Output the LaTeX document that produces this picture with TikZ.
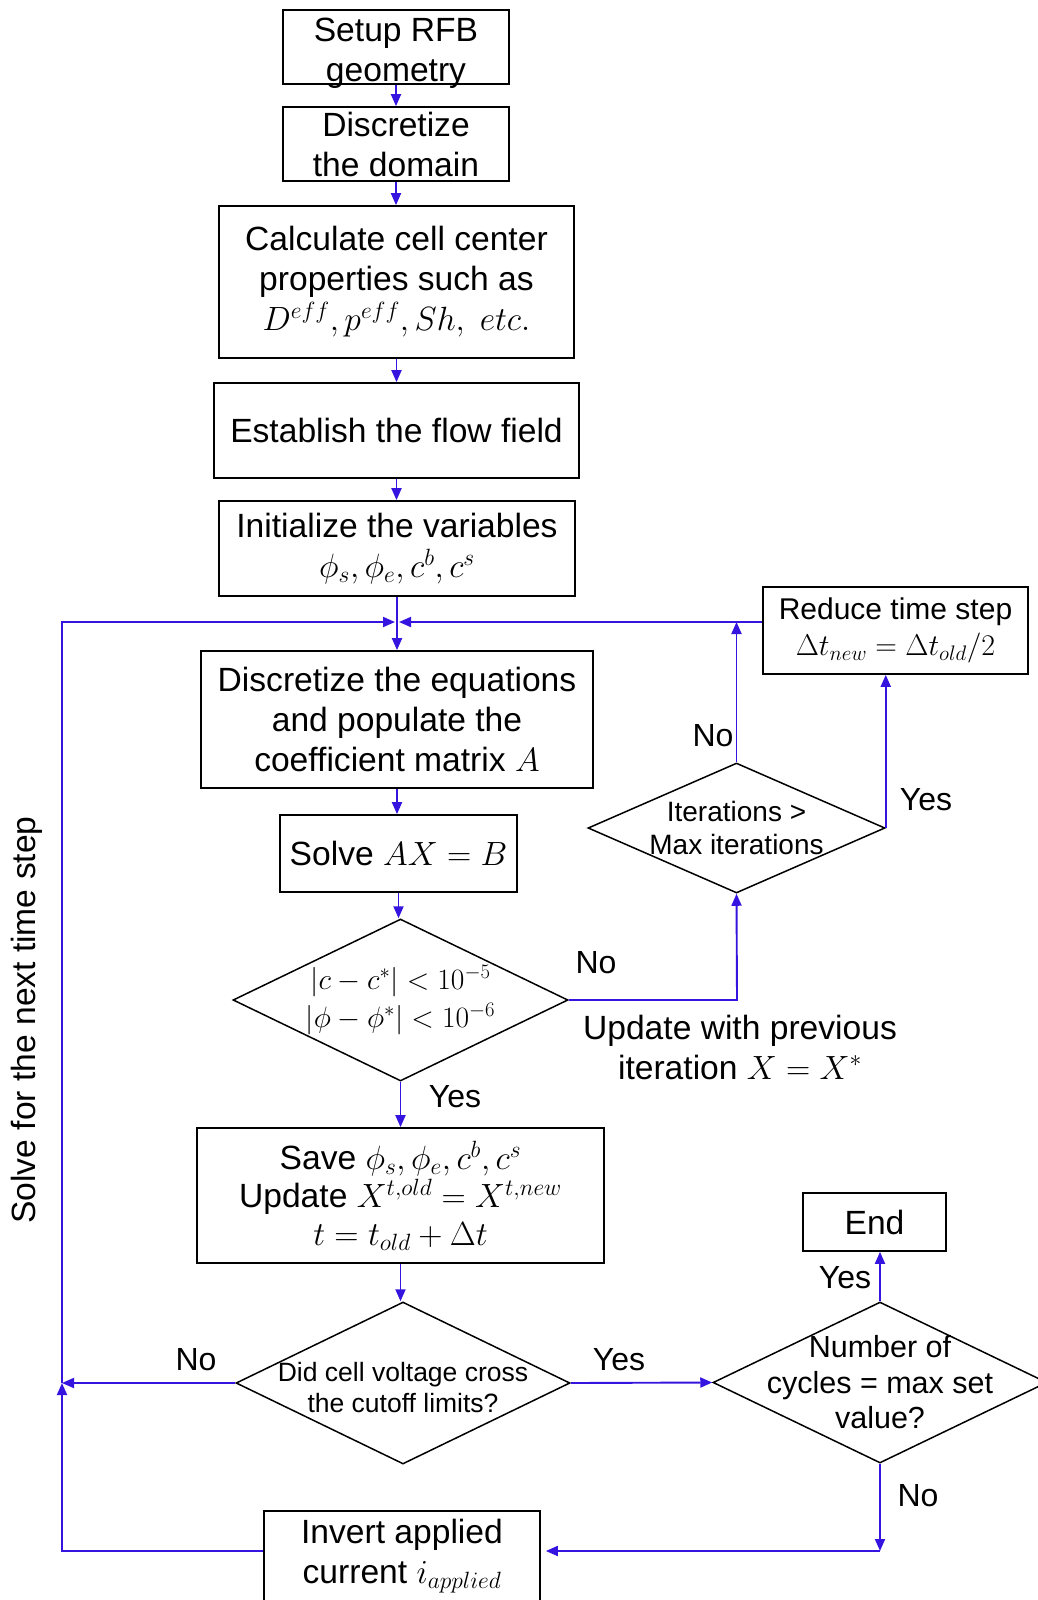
\RequirePackage{fix-cm}
\documentclass[tikz,border=0pt]{standalone}
\usepackage[no-math]{fontspec}
\setmainfont{Liberation Sans}
\usetikzlibrary{shapes.geometric,arrows.meta,calc}
\definecolor{conncol}{RGB}{52,20,222}
\newcommand\fsbig{\fontsize{33.6}{40}\selectfont}
\newcommand\fsmid{\fontsize{30}{36}\selectfont}
\newcommand\fsdia{\fontsize{28}{33}\selectfont}
\newcommand\fscut{\fontsize{26.5}{31}\selectfont}
\newcommand\fsnum{\fontsize{30.5}{35.5}\selectfont}
\newcommand\fsconv{\fontsize{29.5}{38}\selectfont}
\newcommand\fslbl{\fontsize{32}{38}\selectfont}
\begin{document}
\begin{tikzpicture}[x=1pt,y=-1pt,
  box/.style={draw=black,line width=1.7pt,align=center,inner sep=1pt,font=\fsbig},
  dia/.style={draw=black,line width=1.5pt,diamond,inner sep=0pt},
  conn/.style={draw=conncol,line width=1.9pt},
  arr/.style={conn,-{Triangle[length=12pt,width=10pt]}},
  lbl/.style={font=\fslbl,inner sep=0pt}]
\useasboundingbox (0,0) rectangle (1038,1600);

% main column
\node[box,minimum width=226pt,minimum height=74pt] (setup) at (396,47) {\rule{0pt}{30pt}Setup RFB\\\smash{geometry}};
\node[box,minimum width=226pt,minimum height=74pt] (disc) at (396,144) {Discretize\\the domain};
\node[box,minimum width=355pt,minimum height=152pt] (calc) at (396.5,282) {Calculate cell center\\properties such as\\$D^{eff},p^{eff},Sh,\ etc.$};
\node[box,minimum width=365pt,minimum height=95pt] (estab) at (396.5,430.5) {Establish the flow field};
\node[box,minimum width=356pt,minimum height=95pt] (init) at (397,548.5) {Initialize the variables\\$\phi_s,\phi_e,c^b,c^s$};
\node[box,minimum width=392pt,minimum height=137pt] (disceq) at (397,719.5) {Discretize the equations\\and populate the\\coefficient matrix $A$};
\node[box,minimum width=237pt,minimum height=77pt] (solve) at (398.5,853.5) {Solve $AX=B$};
\node[dia,minimum width=335pt,minimum height=162pt,
  label={[font=\fsconv,align=center]center:{$|c-c^*|<10^{-5}$\\$|\phi-\phi^*|<10^{-6}$}}] (conv) at (400.5,1000) {};
\node[box,minimum width=407pt,minimum height=135pt,font=\fontsize{33.6}{38}\selectfont] (save) at (400.5,1195.5) {Save $\phi_s,\phi_e,c^b,c^s$\\Update $X^{t,old}=X^{t,new}$\\$t=t_{old}+\Delta t$};
\node[dia,minimum width=334pt,minimum height=162pt,
  label={[font=\fscut,align=center,yshift=-5pt]center:{Did cell voltage cross\\the cutoff limits?}}] (cutoff) at (403,1383) {};
\node[box,minimum width=276pt,minimum height=90pt] (invert) at (402,1556) {Invert applied\\current $i_{applied}$};

% right side
\node[box,font=\fsmid,minimum width=265pt,minimum height=87pt] (reduce) at (895.5,630.5) {Reduce time step\\$\Delta t_{new}=\Delta t_{old}/2$};
\node[dia,minimum width=297pt,minimum height=130pt,
  label={[font=\fsdia,align=center]center:{Iterations >\\Max iterations}}] (iter) at (736.5,828) {};
\node[dia,minimum width=334pt,minimum height=161pt,
  label={[font=\fsnum,align=center]center:{Number of\\cycles = max set\\value?}}] (numd) at (880,1382.5) {};
\node[box,minimum width=143pt,minimum height=58pt] (end) at (874.5,1222) {End};

% helper coordinates
\coordinate (J) at (397,622);
\coordinate (Jl) at (395,622);
\coordinate (Jr) at (399,622);
\coordinate (L3) at (62,622);
\coordinate (L2) at (62,1383);
\coordinate (L1) at (62,1551);
\coordinate (C1) at (880,1551);
\coordinate (R1) at (737,1000);

% connectors
\draw[arr] (setup.south) -- (disc.north);
\draw[arr] (disc.south) -- (disc.south |- calc.north);
\draw[arr] (calc.south) -- (calc.south |- estab.north);
\draw[arr] (estab.south) -- (estab.south |- init.north);
\draw[arr] (init.south) -- (init.south |- disceq.north);
\draw[arr] (L2) -- (L3) -- (Jl);
\draw[arr] (reduce.west |- J) -- (Jr);
\draw[arr] (iter.north) -- (iter.north |- J);
\draw[arr] (iter.east) -- (iter.east |- reduce.south);
\draw[arr] (disceq.south) -- (disceq.south |- solve.north);
\draw[arr] (solve.south) -- (solve.south |- conv.north);
\draw[arr] (conv.south) -- (conv.south |- save.north);
\draw[arr] (conv.east) -- (R1) -- (iter.south);
\draw[arr] (save.south) -- (save.south |- cutoff.north);
\draw[arr] (cutoff.west) -- (L2);
\draw[arr] (cutoff.east) -- (numd.west);
\draw[arr] (numd.north) -- (numd.north |- end.south);
\draw[arr] (numd.south) -- (C1);
\draw[arr] (C1) -- ($(invert.east |- C1)+(5,0)$);
\draw[arr] (invert.west |- L1) -- (L1) -- (L2);

% labels
\node[lbl] (noIter) at (713,736) {No};
\node[lbl] (yesIter) at (926,800) {Yes};
\node[lbl] (noConv) at (596,963) {No};
\node[lbl,align=center,font=\fsbig] (upd) at (740,1047) {Update with previous\\iteration $X=X^*$};
\node[lbl] (yesConv) at (455,1097) {Yes};
\node[lbl] (noCut) at (196,1360) {No};
\node[lbl] (yesCut) at (619,1360) {Yes};
\node[lbl] (yesNum) at (845,1278) {Yes};
\node[lbl] (noNum) at (918,1496) {No};
\node[lbl,font=\fsbig,rotate=90] (side) at (26.5,1020) {Solve for the next time step};
\end{tikzpicture}
\end{document}
